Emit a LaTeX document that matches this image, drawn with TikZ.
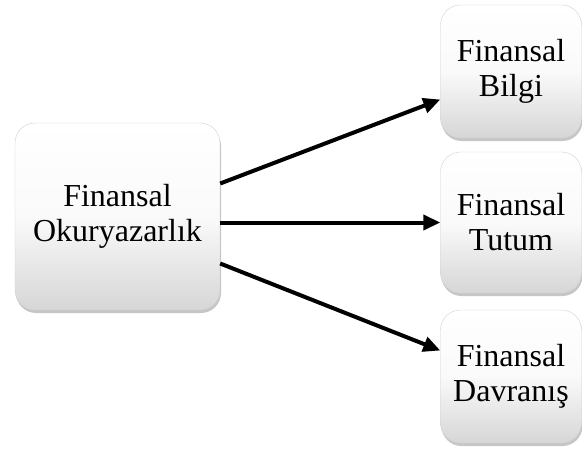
\documentclass[tikz,border=0pt]{standalone}
\usepackage{fontspec}
\setmainfont{Liberation Serif}
\usetikzlibrary{arrows.meta,shadows}

\newcommand\RX{511pt}
\newcommand\RW{141pt}

\tikzset{
  pill/.style={rounded corners=20pt, draw=gray!35, thin,
    top color=white, bottom color=gray!32, middle color=gray!4,
    drop shadow={shadow xshift=1pt, shadow yshift=-3pt, opacity=0.45, fill=gray},
    align=center, font=\fontsize{32}{35}\selectfont, inner sep=0pt},
  link/.style={line width=4pt, -{Triangle[length=17pt,width=15pt]}}
}

\begin{document}
\begin{tikzpicture}[x=1pt, y=-1pt]
  \useasboundingbox (0,0) rectangle (582,450);

  \node[pill, minimum width=205pt, minimum height=187pt] (okur) at (117.5,216.5) {Finansal\\Okuryazarlık};
  \node[pill, minimum width=\RW, minimum height=133pt] (bilgi) at (\RX,71.5) {Finansal\\Bilgi};
  \node[pill, minimum width=\RW, minimum height=141pt] (tutum) at (\RX,222.5) {Finansal\\Tutum};
  \node[pill, minimum width=\RW, minimum height=133pt] (davr) at (\RX,376.5) {Finansal\\Davranış};

  \draw[link] ([yshift=33pt]okur.east) -- ([yshift=-28pt]bilgi.west); %% okur bilgi
  \draw[link] (okur.east |- tutum.west) -- (tutum.west); %% okur tutum
  \draw[link] ([yshift=-47pt]okur.east) -- ([yshift=26pt]davr.west); %% okur davr

\end{tikzpicture}
\end{document}
